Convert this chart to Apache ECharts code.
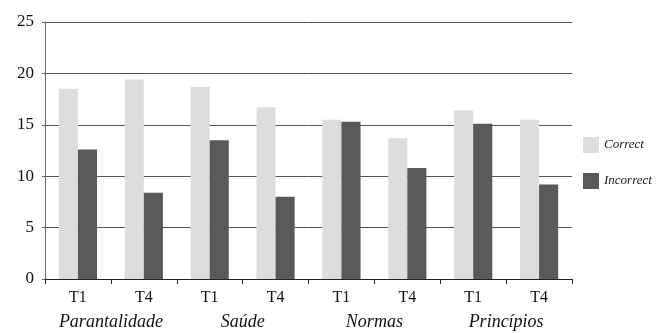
<!DOCTYPE html>
<html><head><meta charset="utf-8">
<script src="https://cdn.jsdelivr.net/npm/echarts@6/dist/echarts.min.js"></script>
<style>html,body{margin:0;padding:0;background:#fff}#c{width:658px;height:333px}</style>
</head><body><div id="c"></div>
<script>
const categories = ['T1','T4','T1','T4','T1','T4','T1','T4'];
const groups = ['Parantalidade','Saúde','Normas','Princípios'];
const correct = [18.5, 19.4, 18.7, 16.7, 15.5, 13.7, 16.4, 15.5];
const incorrect = [12.6, 8.4, 13.5, 8.0, 15.3, 10.8, 15.1, 9.2];
const yTicks = {min:0, max:25, interval:5};

const serif = 'Liberation Serif';
const chart = echarts.init(document.getElementById('c'), null, {renderer:'canvas'});
chart.setOption({
  animation:false,
  backgroundColor:'#fff',
  textStyle:{fontFamily:serif},
  grid:{left:45, right:86, top:22, bottom:54},
  legend:{
    orient:'vertical', left:578, top:132, itemWidth:16, itemHeight:16, itemGap:20,
    icon:'rect',
    textStyle:{fontFamily:serif, fontStyle:'italic', fontSize:13, color:'#222'},
    data:['Correct','Incorrect']
  },
  xAxis:[{
    type:'category', data:categories,
    axisLine:{lineStyle:{color:'#222', width:1}},
    axisTick:{show:true, length:5, lineStyle:{color:'#222'}},
    axisLabel:{fontFamily:serif, fontSize:16, color:'#111', margin:11, interval:0}
  },{
    type:'category', data:groups, position:'bottom', offset:24,
    axisLine:{show:false}, axisTick:{show:false}, splitLine:{show:false},
    axisLabel:{fontFamily:serif, fontStyle:'italic', fontSize:18, color:'#111', margin:10, interval:0}
  }],
  yAxis:{
    type:'value', min:yTicks.min, max:yTicks.max, interval:yTicks.interval,
    axisLine:{show:true, lineStyle:{color:'#666', width:1}},
    axisTick:{show:true, length:3, lineStyle:{color:'#666'}},
    axisLabel:{fontFamily:serif, fontSize:17, color:'#111', margin:11},
    splitLine:{show:true, lineStyle:{color:'#555', width:1}}
  },
  series:[
    {name:'Correct', type:'bar', data:correct, itemStyle:{color:'#dcdddf'}, barGap:'0%', barCategoryGap:'42%', xAxisIndex:0},
    {name:'Incorrect', type:'bar', data:incorrect, itemStyle:{color:'#58595b'}, xAxisIndex:0}
  ]
});
</script></body></html>
